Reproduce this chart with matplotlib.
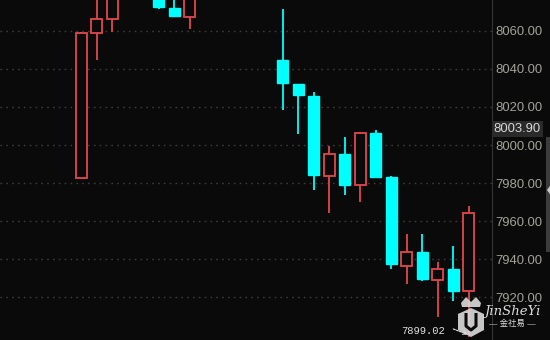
import numpy as np
import matplotlib
matplotlib.use("Agg")
import matplotlib.pyplot as plt
from matplotlib.patches import Polygon

nan = np.nan
# daily candles, index 0..25 (3,4,8-12 sit above the visible window)
opens = [7982.6, 8058.8, 8066.2, nan, nan, 8082.0, 8072.1, 8067.2, nan, nan, nan, nan, nan,
         8044.6, 8031.9, 8025.6, 7983.8, 7995.3, 7978.8, 8006.2, 7983.2, 7936.2, 7943.5, 7929.1, 7934.6, 7923.2]
closes = [8059.0, 8066.2, 8082.0, nan, nan, 8072.5, 8068.1, 8080.0, nan, nan, nan, nan, nan,
          8032.6, 8026.2, 7984.4, 7995.1, 7979.1, 8006.2, 7983.3, 7937.4, 7943.5, 7929.5, 7934.6, 7923.3, 7964.4]
highs = [8059.5, 8080.0, 8088.0, nan, nan, 8084.0, 8079.0, 8082.0, nan, nan, nan, nan, nan,
         8071.6, 8031.9, 8027.7, 7999.5, 8004.2, 8006.7, 8007.7, 7983.7, 7953.3, 7953.3, 7938.3, 7946.7, 7968.1]
lows = [7982.6, 8044.6, 8059.3, nan, nan, 8071.6, 8067.5, 8061.0, nan, nan, nan, nan, nan,
        8018.4, 8005.9, 7976.5, 7964.1, 7973.8, 7969.8, 7983.3, 7934.7, 7926.7, 7928.4, 7909.6, 7917.7, 7899.02]
price_ticks = [7920, 7940, 7960, 7980, 8000, 8020, 8040, 8060]
last_price = "8003.90"
low_label = "7899.02"

BG = "#0a0a0a"
UP = "#e0474c"
DOWN = "#00ffff"

plt.rcParams["font.family"] = ["Liberation Sans", "Noto Sans CJK SC", "DejaVu Sans"]
fig = plt.figure(figsize=(5.5, 3.4), dpi=100, facecolor=BG)
ax = fig.add_axes([0, 0, 492 / 550, 1])
ax.set_facecolor(BG)
ax.set_xlim(-5.23, 26.5)
ax.set_ylim(7897.4, 8076.3)

for y in price_ticks:
    ax.axhline(y, color="#3c3c3c", lw=1, ls=(0, (1.2, 3)), zorder=0)

w = 0.7
for i, (o, c, h, l) in enumerate(zip(opens, closes, highs, lows)):
    if np.isnan(o):
        continue
    lo, hi = min(o, c), max(o, c)
    if c >= o:
        ax.vlines(i, hi, h, color=UP, lw=1.3, zorder=2)
        ax.vlines(i, l, lo, color=UP, lw=1.3, zorder=2)
        ax.bar(i, hi - lo, bottom=lo, width=w, facecolor=BG, edgecolor=UP, lw=1.3, zorder=3)
    else:
        ax.vlines(i, l, h, color=DOWN, lw=1.3, zorder=2)
        ax.bar(i, hi - lo, bottom=lo, width=w, facecolor=DOWN, edgecolor=DOWN, lw=1, zorder=3)

ax.yaxis.tick_right()
ax.set_yticks(price_ticks)
ax.set_yticklabels([f"{t:.2f}" for t in price_ticks])
ax.tick_params(axis="y", length=0, pad=2.5, labelsize=9.4, labelcolor="#a3a296")
ax.set_xticks([])
for s in ("left", "top", "bottom"):
    ax.spines[s].set_visible(False)
ax.spines["right"].set_color("#333333")

# last price tag
ax.text(1.003, 8008.2, last_price, transform=ax.get_yaxis_transform(), ha="left", va="center",
        fontsize=9.4, color="#d8d8d8", clip_on=False,
        bbox=dict(boxstyle="square,pad=0.15", fc="#2a2a2a", ec="none"))

# lowest point marker
i_low = int(np.nanargmin(lows))
ax.text(i_low - 1.52, lows[i_low] + 3.0, low_label, ha="right", va="center",
        fontsize=7.6, color="#e0e0e0", family="Liberation Mono")
ax.annotate("", xy=(i_low - 0.08, lows[i_low] + 1.3), xytext=(i_low - 1.0, lows[i_low] + 4.2),
            arrowprops=dict(arrowstyle="->", color="#e6e6e6", lw=0.8, ls=(0, (2, 1)),
                            shrinkA=0, shrinkB=0, mutation_scale=6))

# overlay: scrollbar and watermark
ov = fig.add_axes([0, 0, 1, 1], facecolor="none")
ov.set_xlim(0, 550)
ov.set_ylim(340, 0)
ov.axis("off")
ov.add_patch(plt.Rectangle((546, 137), 4, 115, fc="#3c3c3c", ec="none"))
ov.add_patch(Polygon([[547, 190], [550, 186], [550, 194]], closed=True, fc="#cfcfcf", ec="none"))

wm = "#dcdcdc"
ov.add_patch(Polygon([[461, 303], [466, 297], [471, 302], [476, 297], [481, 303], [480, 307], [462, 307]],
                     closed=True, fc=wm, ec="none", alpha=0.9))
ov.add_patch(Polygon([[471, 308], [484, 314], [484, 330], [471, 337], [458, 330], [458, 314]],
                     closed=True, fc=wm, ec="none", alpha=0.9))
ov.plot([466, 466, 471, 476, 476], [313, 326, 330, 326, 313], color=BG, lw=2.2, solid_capstyle="butt")
ov.text(512, 311, "JinSheYi", ha="center", va="center", fontsize=9.5, color=wm,
        family="DejaVu Serif", style="italic")
ov.text(512, 324, "— 金社易 —", ha="center", va="center", fontsize=6, color=wm)

fig.savefig("out.png", dpi=100, facecolor=BG)
